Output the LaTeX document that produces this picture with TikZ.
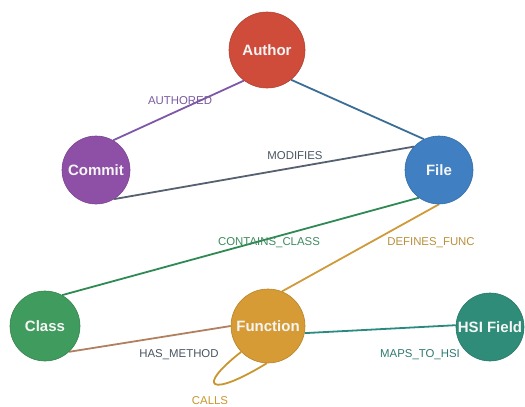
\documentclass[tikz,border=0pt]{standalone}
\usepackage{fontspec}
\setmainfont{Liberation Sans}
\usetikzlibrary{backgrounds}
\definecolor{cAuthor}{RGB}{207,76,58}
\definecolor{cCommit}{RGB}{142,80,166}
\definecolor{cFile}{RGB}{63,127,194}
\definecolor{cClass}{RGB}{64,155,94}
\definecolor{cFunc}{RGB}{214,155,52}
\definecolor{cHsi}{RGB}{47,140,121}
\definecolor{eAuth}{RGB}{126,87,168}
\definecolor{eAF}{RGB}{58,110,150}
\definecolor{eMod}{RGB}{85,96,112}
\definecolor{eCls}{RGB}{46,138,82}
\definecolor{eDef}{RGB}{208,154,58}
\definecolor{eHas}{RGB}{176,128,96}
\definecolor{eMap}{RGB}{42,138,128}
\definecolor{eCall}{RGB}{201,150,46}
\definecolor{lAuth}{RGB}{122,91,160}
\definecolor{lGray}{RGB}{74,85,96}
\definecolor{lCls}{RGB}{62,138,94}
\definecolor{lDef}{RGB}{184,144,60}
\definecolor{lMap}{RGB}{47,122,112}
\tikzset{
  entity/.style={circle, inner sep=0pt, fill=#1, draw=#1!85!black, line width=0.6pt,
    text=white!96!black, font=\fontsize{15}{18}\selectfont\bfseries},
  rel/.style={line width=1.8pt, draw=#1},
  rlabel/.style={text=#1, font=\fontsize{11.4}{13}\selectfont, inner sep=0pt}
}
\begin{document}
\begin{tikzpicture}[x=1pt,y=-1pt]
\useasboundingbox (0,0) rectangle (525,407);
\node[entity=cAuthor, minimum size=76pt] (author) at (267,50) {Author};
\node[entity=cCommit, minimum size=68pt] (commit) at (96,170) {Commit};
\node[entity=cFile, minimum size=68pt] (file) at (439,170) {File};
\node[entity=cClass, minimum size=70pt] (class) at (45,326) {Class};
\node[entity=cFunc, minimum size=74pt] (func) at (268,326) {Function};
\node[entity=cHsi, minimum size=68pt] (hsi) at (490,327) {HSI Field};
\begin{scope}[on background layer]
\draw[rel=eAuth] (author.233) -- (commit.60);
\draw[rel=eAF] (author.309) -- (file.116);
\draw[rel=eMod] (commit.302) -- (file.137);
\draw[rel=eCls] (file.234) -- (class.61);
\draw[rel=eDef] (file.270) -- (func.68);
\draw[rel=eHas] (class.313) -- (func.180);
\draw[rel=eMap] (func.349) -- (hsi.177);
\draw[rel=eCall] (func.224) .. controls (195,388) and (210,398) .. (func.268);
\end{scope}
\node[rlabel=lAuth] (lauth) at (180,101) {AUTHORED};
\node[rlabel=lGray] (lmod) at (295,156) {MODIFIES};
\node[rlabel=lCls] (lcls) at (269,243) {CONTAINS\_CLASS};
\node[rlabel=lDef] (ldef) at (431,243) {DEFINES\_FUNC};
\node[rlabel=lGray] (lhas) at (179,355) {HAS\_METHOD};
\node[rlabel=lMap] (lmap) at (420,355) {MAPS\_TO\_HSI};
\node[rlabel=eCall] (lcall) at (210,401) {CALLS};
\end{tikzpicture}
\end{document}
